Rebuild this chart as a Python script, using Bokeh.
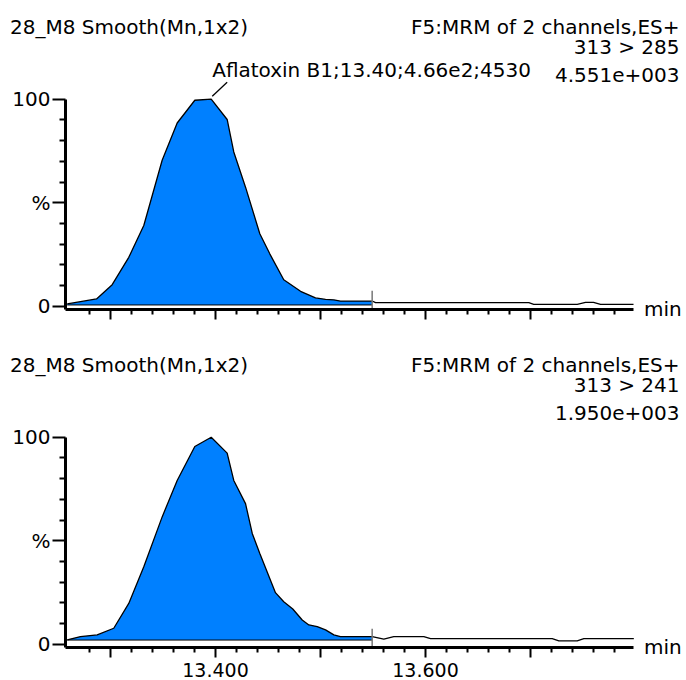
from bokeh.plotting import figure
from bokeh.models import Range1d, FixedTicker, Label, PrintfTickFormatter, LinearAxis
from bokeh.embed import file_html
from bokeh.resources import INLINE

# ---------------- data ----------------
# channel 313 > 285 (retention time in min, relative intensity %)
time_285 = [13.2588, 13.2714, 13.2867, 13.3016, 13.3174, 13.3317, 13.3492, 13.3635,
            13.3803, 13.3959, 13.4111, 13.4174, 13.4286, 13.4422, 13.4517, 13.4650,
            13.4810, 13.4952, 13.5048, 13.5127, 13.5190, 13.5492, 13.5524, 13.6984,
            13.7031, 13.7445, 13.7524, 13.7600, 13.7667, 13.7981]
pct_285 = [1.1, 2.2, 3.5, 10.4, 23.6, 39.0, 70.5, 88.5,
           99.5, 100.0, 90.2, 74.5, 57.5, 35.0, 25.3, 12.8,
           7.2, 4.0, 3.3, 3.1, 2.5, 2.5, 1.7, 1.7,
           0.9, 0.9, 1.8, 1.8, 0.9, 0.9]
peak_end_285 = 13.5492
baseline_285 = 0.6

# channel 313 > 241
time_241 = [13.2588, 13.2714, 13.2873, 13.3031, 13.3174, 13.3317, 13.3492, 13.3635,
            13.3803, 13.3959, 13.4111, 13.4174, 13.4286, 13.4350, 13.4422, 13.4571,
            13.4650, 13.4736, 13.4826, 13.4889, 13.4969, 13.5048, 13.5127, 13.5190,
            13.5492, 13.5603, 13.5698, 13.5984, 13.6048, 13.7207, 13.7270, 13.7445,
            13.7508, 13.7984]
pct_241 = [2.1, 3.7, 4.5, 7.7, 19.7, 37.4, 61.5, 79.1,
           95.5, 100.0, 92.3, 79.1, 67.9, 53.5, 43.8, 24.9,
           20.5, 17.0, 11.7, 9.3, 8.5, 6.9, 4.5, 3.7,
           3.7, 2.4, 3.7, 3.7, 2.7, 2.7, 1.6, 1.6,
           2.7, 2.7]
peak_end_241 = 13.5492
baseline_241 = 2.0

peak_time = 13.3959

x_major = [13.3, 13.4, 13.5, 13.6, 13.7]
x_minor = [13.28, 13.32, 13.34, 13.36, 13.38, 13.42, 13.44, 13.46, 13.48,
           13.52, 13.54, 13.56, 13.58, 13.62, 13.64, 13.66, 13.68, 13.72,
           13.74, 13.76, 13.78]
x_labels = {13.3: "", 13.4: "13.400", 13.5: "", 13.6: "13.600", 13.7: ""}
y_major = [0, 50, 100]
y_minor = [10, 20, 30, 40, 60, 70, 80, 90]
y_labels = {0: "0", 50: "%", 100: "100"}

header_left = "28_M8  Smooth(Mn,1x2)"
header_right = "F5:MRM of 2 channels,ES+"
transitions = ["313 > 285", "313 > 241"]
intensities = ["4.551e+003", "1.950e+003"]
annotation_text = "Aflatoxin B1;13.40;4.66e2;4530"

# ---------------- layout / style ----------------
FONT = "DejaVu Sans"
FS = "20px"
BLUE = "#0080ff"
W, H = 686, 680
X0, X1 = 13.25714, 13.79810       # extent of the time axes
AX_LEFT = 65                       # pixel column of the intensity axes
PX_PER_MIN = 1050.0
PX_PER_PCT = 2.07
ZERO_PX = [305.7, 643.7]           # pixel row of 0 % in each panel
PANEL_DY = [0, 338]
Y0 = -1.6                          # time axis sits slightly below 0 %
RANGES = ["default", "bot"]


def xv(px):
    return X0 + (px - AX_LEFT) / PX_PER_MIN


def yv(i, py):
    return (ZERO_PX[i] - py) / PX_PER_PCT


p = figure(width=W, height=H, output_backend="svg", toolbar_location=None,
           x_range=Range1d(xv(0), xv(W)), y_range=Range1d(yv(0, H), yv(0, 0)),
           x_axis_location=None, y_axis_location=None, min_border=0)
p.min_border_left = p.min_border_right = p.min_border_top = p.min_border_bottom = 0
p.extra_y_ranges = {"bot": Range1d(yv(1, H), yv(1, 0))}
p.outline_line_color = None
p.grid.visible = False


def style_axis(ax):
    ax.axis_line_width = 3
    ax.axis_line_color = "black"
    ax.major_tick_line_width = 2
    ax.minor_tick_line_width = 2
    ax.major_tick_line_color = "black"
    ax.minor_tick_line_color = "black"
    ax.major_tick_in = 0
    ax.minor_tick_in = 0
    ax.major_label_text_font = FONT
    ax.major_label_text_font_size = FS
    ax.major_label_text_color = "black"


panels = [
    (time_285, pct_285, peak_end_285, baseline_285),
    (time_241, pct_241, peak_end_241, baseline_241),
]

for i, (times, pct, peak_end, base) in enumerate(panels):
    rn = RANGES[i]
    dy = PANEL_DY[i]

    # integrated peak area + trace
    k = times.index(peak_end)
    xs = times[:k + 1] + [peak_end, times[0]]
    ys = pct[:k + 1] + [base, base]
    p.patch(xs, ys, fill_color=BLUE, line_color=None, y_range_name=rn)
    p.line([times[0], peak_end], [base, base], line_color="black", line_width=1,
           y_range_name=rn)
    p.line(times, pct, line_color="black", line_width=1.3, y_range_name=rn)
    p.segment(x0=[peak_end], y0=[-1.0], x1=[peak_end], y1=[7.5],
              line_color="#777777", line_width=1.5, y_range_name=rn)

    # time axis
    xa = LinearAxis(y_range_name=rn, fixed_location=Y0, bounds=(X0, X1),
                    ticker=FixedTicker(ticks=x_major, minor_ticks=x_minor),
                    formatter=PrintfTickFormatter(format="%.3f"))
    style_axis(xa)
    xa.major_tick_out = 10
    xa.minor_tick_out = 5
    xa.major_label_standoff = 5
    xa.major_label_text_font_size = "19px"
    if i == 1:
        xa.major_label_overrides = x_labels
    else:
        xa.major_label_overrides = {t: "" for t in x_major}
    p.add_layout(xa, "below")

    # intensity axis
    ya = LinearAxis(y_range_name=rn, fixed_location=X0, bounds=(Y0, 100),
                    ticker=FixedTicker(ticks=y_major, minor_ticks=y_minor))
    style_axis(ya)
    ya.major_label_overrides = y_labels
    ya.major_tick_out = 13
    ya.minor_tick_out = 6
    ya.major_label_standoff = 2
    p.add_layout(ya, "left")

    # texts (y = vertical centre of the text, in pixels of the top panel layout)
    def lab(text, px, py, align="left"):
        p.add_layout(Label(text=text, x=xv(px), y=yv(i, py + dy), y_range_name=rn,
                           text_font=FONT, text_font_size=FS, text_color="black",
                           text_align=align, text_baseline="middle"))

    lab(header_left, 9.5, 26)
    lab(header_right, 679, 26, "right")
    lab(transitions[i], 679, 46.5, "right")
    lab(intensities[i], 679, 74, "right")
    lab("min", 643.5, 308)

    if i == 0:
        p.add_layout(Label(text=annotation_text, x=peak_time, y=yv(i, 69), x_offset=1,
                           y_range_name=rn, text_font=FONT, text_font_size=FS,
                           text_color="black", text_baseline="middle"))
        p.segment(x0=[peak_time + 0.001], y0=[101.4], x1=[peak_time + 0.0152], y1=[108.2],
                  line_color="black", line_width=1.3, y_range_name=rn)

open("out.html", "w").write(file_html(p, INLINE))
